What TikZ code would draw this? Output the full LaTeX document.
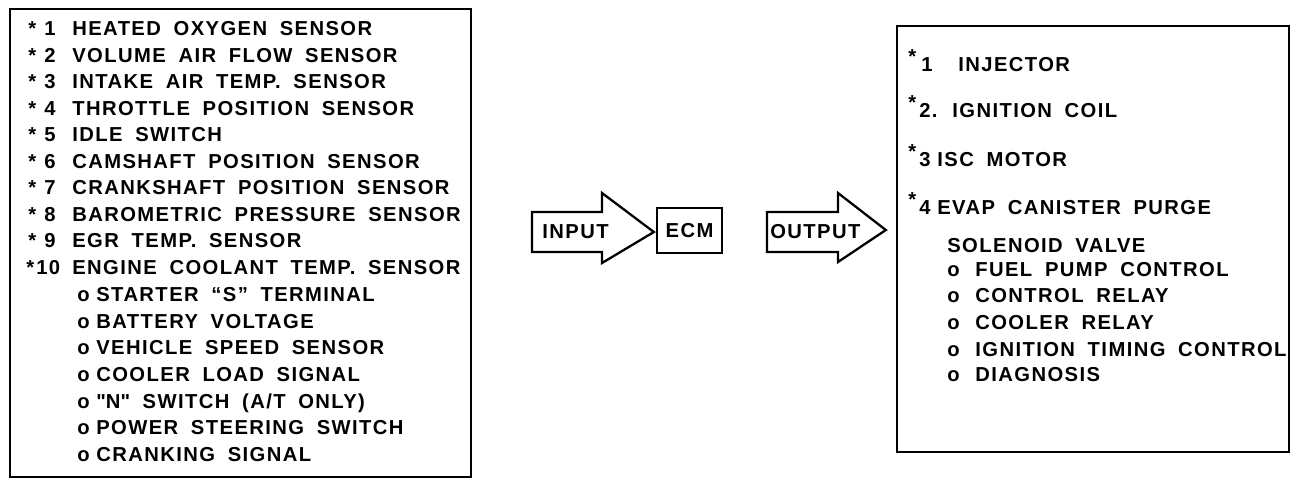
\documentclass[tikz,border=0pt]{standalone}
\usepackage{fontspec}
\setmainfont{Liberation Sans}[LetterSpace=7,WordSpace=1.8]
\usetikzlibrary{positioning,calc}

\begin{document}
\begin{tikzpicture}[x=0.02cm, y=-0.02cm, every node/.style={font=\fontsize{11.5}{13}\selectfont\bfseries, inner sep=0pt}]
  \tikzset{
    listbox/.style={draw, line width=1.4pt},
    flowarrow/.style={draw, line width=1.3pt, line join=miter},
    ecmbox/.style={draw, line width=1.3pt, minimum width=1.3cm, minimum height=0.9cm},
    item/.style={anchor=base west}
  }
  \useasboundingbox (0,0) rectangle (1312,488);

  % input side
  \node[listbox, minimum width=9.22cm, minimum height=9.36cm] (sensorbox) at (240.5,243) {};
  \foreach \n/\nx/\sx/\txt in {1/44/28/HEATED OXYGEN SENSOR, 2/44/28/VOLUME AIR FLOW SENSOR,
      3/44/28/INTAKE AIR TEMP. SENSOR, 4/44/28/THROTTLE POSITION SENSOR, 5/44/28/IDLE SWITCH,
      6/44/28/CAMSHAFT POSITION SENSOR, 7/44/28/CRANKSHAFT POSITION SENSOR,
      8/44/28/BAROMETRIC PRESSURE SENSOR, 9/44/28/EGR TEMP. SENSOR,
      10/36/26/ENGINE COOLANT TEMP. SENSOR} {
    \node[item] (star\n) at (\sx, 9+26.5*\n) {*};
    \node[item] (num\n) at (\nx, 9+26.5*\n) {\n};
    \node[item] (in\n) at (72, 9+26.5*\n) {\txt};
  }
  \foreach \txt [count=\j] in {{STARTER “S” TERMINAL}, {BATTERY VOLTAGE}, {VEHICLE SPEED SENSOR},
      {COOLER LOAD SIGNAL}, {\textquotedbl N\textquotedbl\ SWITCH (A/T ONLY)},
      {POWER STEERING SWITCH}, {CRANKING SIGNAL}} {
    \node[item] (dot\j) at (77, 275+26.6*\j) {o};
    \node[item] (sub\j) at (96, 275+26.6*\j) {\txt};
  }

  % input -> ECM -> output
  \node[ecmbox] (ecm) at (689.5,230.5) {ECM};
  \node[anchor=west] (input) at (542,232) {INPUT};
  \draw[flowarrow] (532,212) -- (602,212) -- (602,193) -- ($(ecm.west)+(-2,1.5)$)
    -- (602,263) -- (602,252) -- (532,252) -- cycle;
  \node[listbox, minimum width=7.84cm, minimum height=8.52cm] (actuatorbox) at (1093,239) {};
  \node[anchor=west] (output) at (770,232) {OUTPUT};
  \draw[flowarrow] (767,212) -- (838,212) -- (838,193) -- ($(actuatorbox.west)+(-10,-9)$)
    -- (838,262) -- (838,252) -- (767,252) -- cycle;

  % output side
  \foreach \n/\y in {1/71, 2/117, 3/166, 4/214} {
    \node[item] (ostar\n) at (908, \y-8) {*};
  }
  \node[item] (onum1) at (921,71) {1};
  \node[item] (out1) at (958,71) {INJECTOR};
  \node[item] (onum2) at (919,117) {2.};
  \node[item] (out2) at (952,117) {IGNITION COIL};
  \node[item] (onum3) at (919,166) {3};
  \node[item] (out3) at (937,166) {ISC MOTOR};
  \node[item] (onum4) at (919,214) {4};
  \node[item] (out4) at (937,214) {EVAP CANISTER PURGE};
  \node[item] (out4b) at (947,252) {SOLENOID VALVE};
  \foreach \txt/\y [count=\j] in {FUEL PUMP CONTROL/276, CONTROL RELAY/302, COOLER RELAY/329,
      IGNITION TIMING CONTROL/356, DIAGNOSIS/381} {
    \node[item] (odot\j) at (947, \y) {o};
    \node[item] (osub\j) at (975, \y) {\txt};
  }
\end{tikzpicture}
\end{document}
